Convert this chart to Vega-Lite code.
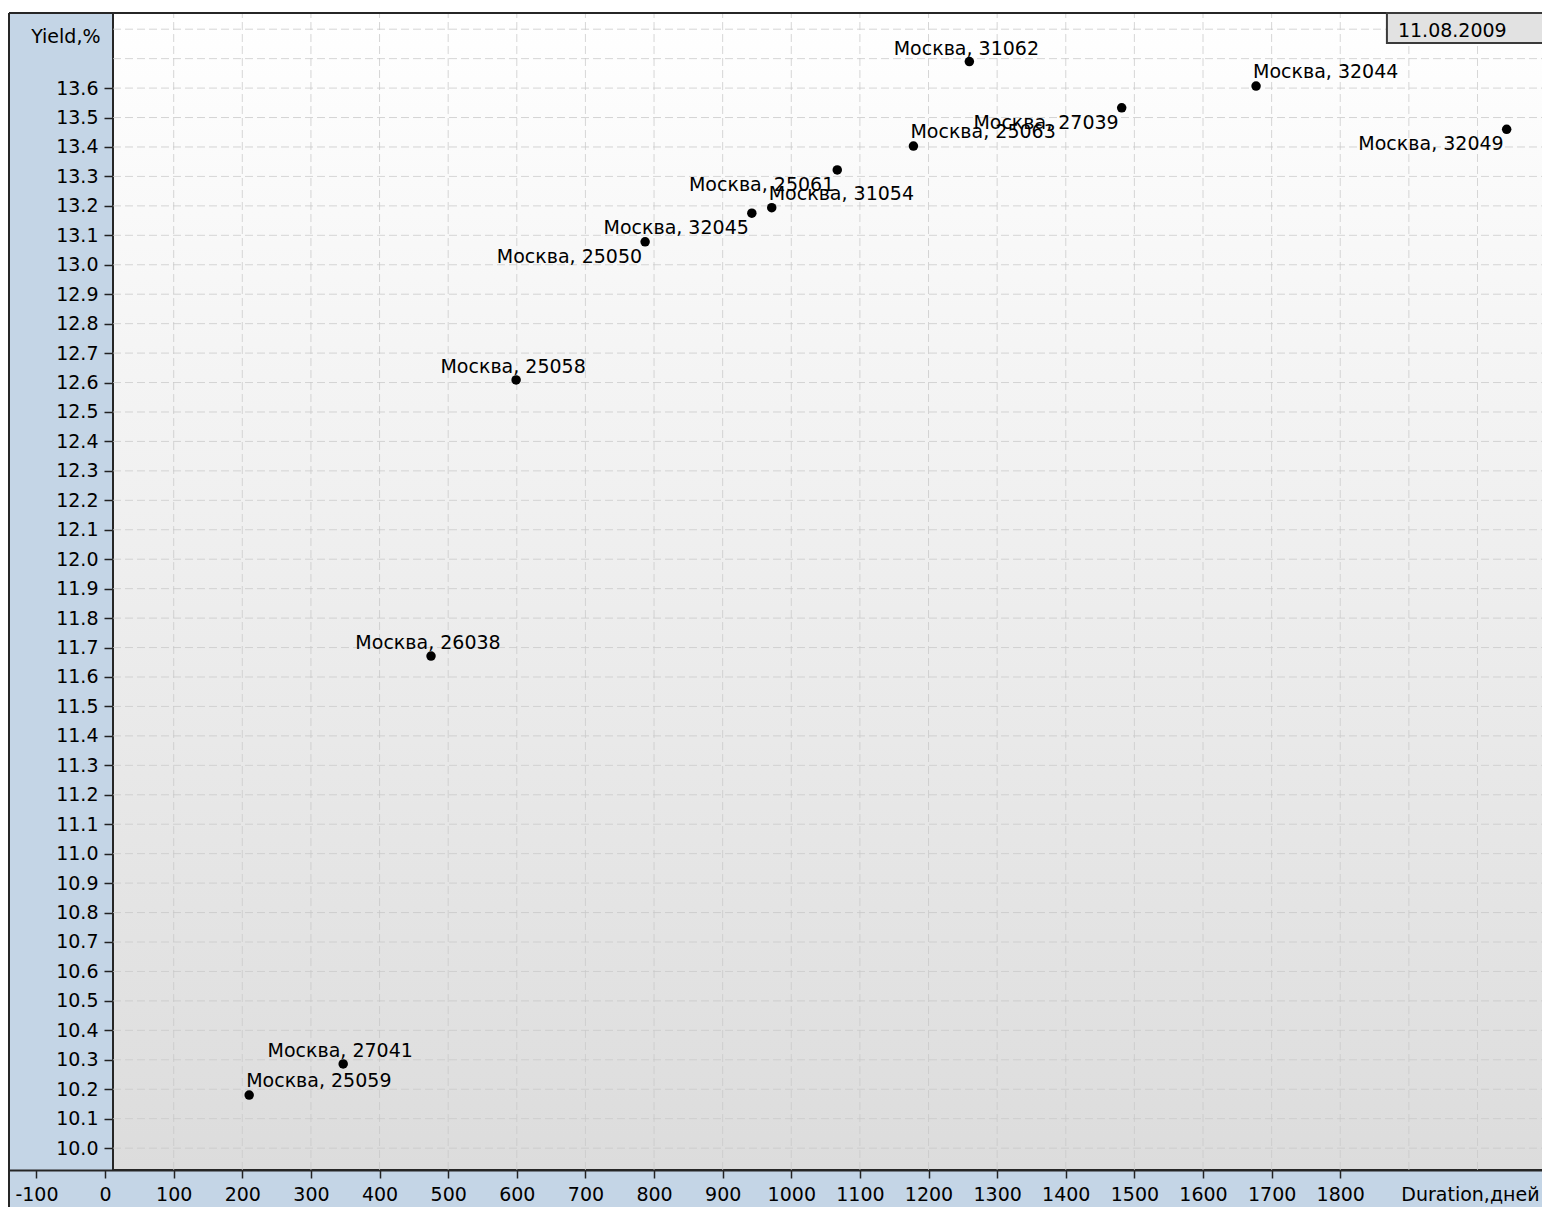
{
  "$schema": "https://vega.github.io/schema/vega-lite/v6.json",
  "width": 1429,
  "height": 1157,
  "autosize": {"type": "none"},
  "padding": {"left": 113, "top": 13, "right": 0, "bottom": 37},
  "background": "#c4d5e6",
  "config": {
    "font": "DejaVu Sans",
    "view": {"fill": null, "stroke": null},
    "text": {"font": "DejaVu Sans", "fontSize": 19, "color": "#000000"}
  },
  "datasets": {
    "bonds": [
      {"name": "Москва, 31062", "dur": 1259.5, "yld": 13.690},
      {"name": "Москва, 32044", "dur": 1677.3, "yld": 13.607},
      {"name": "Москва, 27039", "dur": 1481.5, "yld": 13.533},
      {"name": "Москва, 25063", "dur": 1178.0, "yld": 13.403},
      {"name": "Москва, 32049", "dur": 2042.5, "yld": 13.460},
      {"name": "Москва, 25061", "dur": 1067.0, "yld": 13.322},
      {"name": "Москва, 31054", "dur": 971.5, "yld": 13.194},
      {"name": "Москва, 32045", "dur": 942.5, "yld": 13.175},
      {"name": "Москва, 25050", "dur": 787.0, "yld": 13.078},
      {"name": "Москва, 25058", "dur": 599.0, "yld": 12.609},
      {"name": "Москва, 26038", "dur": 475.0, "yld": 11.671},
      {"name": "Москва, 27041", "dur": 347.0, "yld": 10.286},
      {"name": "Москва, 25059", "dur": 210.0, "yld": 10.180}
    ],
    "hgrid": [
      {"v": 10.0}, {"v": 10.1}, {"v": 10.2}, {"v": 10.3}, {"v": 10.4}, {"v": 10.5}, {"v": 10.6}, {"v": 10.7}, {"v": 10.8}, {"v": 10.9},
      {"v": 11.0}, {"v": 11.1}, {"v": 11.2}, {"v": 11.3}, {"v": 11.4}, {"v": 11.5}, {"v": 11.6}, {"v": 11.7}, {"v": 11.8}, {"v": 11.9},
      {"v": 12.0}, {"v": 12.1}, {"v": 12.2}, {"v": 12.3}, {"v": 12.4}, {"v": 12.5}, {"v": 12.6}, {"v": 12.7}, {"v": 12.8}, {"v": 12.9},
      {"v": 13.0}, {"v": 13.1}, {"v": 13.2}, {"v": 13.3}, {"v": 13.4}, {"v": 13.5}, {"v": 13.6}, {"v": 13.7}, {"v": 13.8}
    ],
    "vgrid": [
      {"v": 100}, {"v": 200}, {"v": 300}, {"v": 400}, {"v": 500}, {"v": 600}, {"v": 700}, {"v": 800}, {"v": 900}, {"v": 1000},
      {"v": 1100}, {"v": 1200}, {"v": 1300}, {"v": 1400}, {"v": 1500}, {"v": 1600}, {"v": 1700}, {"v": 1800}, {"v": 1900}, {"v": 2000}
    ],
    "stamp": [{"date": "11.08.2009"}]
  },
  "layer": [
    {
      "data": {"values": [{}]},
      "mark": {"type": "rect", "fill": "#ffffff"},
      "encoding": {
        "x": {"datum": -400, "type": "quantitative", "scale": {"domain": [-140, 2094], "range": [-104, 1429], "nice": false, "zero": false}},
        "x2": {"datum": 2200},
        "y": {"datum": 13.855, "type": "quantitative", "scale": {"domain": [9.8, 13.855], "range": [1194, 0], "nice": false, "zero": false}},
        "y2": {"datum": 14.6}
      }
    },
    {
      "data": {"values": [{}]},
      "mark": {"type": "rect", "fill": "#ffffff"},
      "encoding": {
        "x": {"datum": -400, "type": "quantitative"},
        "x2": {"datum": -140},
        "y": {"datum": 9.0, "type": "quantitative"},
        "y2": {"datum": 14.6}
      }
    },
    {
      "data": {"values": [{}]},
      "mark": {
        "type": "rect",
        "fill": {"gradient": "linear", "x1": 0, "y1": 0, "x2": 0, "y2": 1,
          "stops": [{"offset": 0, "color": "#ffffff"}, {"offset": 1, "color": "#dcdcdc"}]},
        "stroke": "#262626",
        "strokeWidth": 2
      },
      "encoding": {
        "x": {"datum": 11.56, "type": "quantitative"},
        "x2": {"datum": 2100},
        "y": {"datum": 9.9256, "type": "quantitative"},
        "y2": {"datum": 13.855}
      }
    },
    {
      "data": {"name": "hgrid"},
      "mark": {"type": "rule", "stroke": "#c8c8c8", "strokeWidth": 1, "strokeDash": [8, 4], "opacity": 0.75},
      "encoding": {
        "y": {"field": "v", "type": "quantitative"},
        "x": {"datum": 11.56, "type": "quantitative"},
        "x2": {"datum": 2100}
      }
    },
    {
      "data": {"name": "vgrid"},
      "mark": {"type": "rule", "stroke": "#c8c8c8", "strokeWidth": 1, "strokeDash": [8, 4], "opacity": 0.75},
      "encoding": {
        "x": {"field": "v", "type": "quantitative"},
        "y": {"datum": 9.9256, "type": "quantitative"},
        "y2": {"datum": 13.855}
      }
    },
    {
      "data": {"values": [{}]},
      "mark": {"type": "rule", "stroke": "#262626", "strokeWidth": 2},
      "encoding": {
        "x": {"datum": -140, "type": "quantitative"},
        "y": {"datum": 9.0, "type": "quantitative"},
        "y2": {"datum": 13.855}
      }
    },
    {
      "data": {"values": [{}]},
      "mark": {"type": "rule", "stroke": "#262626", "strokeWidth": 2},
      "encoding": {
        "y": {"datum": 13.855, "type": "quantitative"},
        "x": {"datum": -140, "type": "quantitative"},
        "x2": {"datum": 2200}
      }
    },
    {
      "data": {"name": "stamp"},
      "mark": {"type": "rect", "fill": "#e2e2e2", "stroke": "#3a3a3a", "strokeWidth": 2},
      "encoding": {
        "x": {"datum": 1868, "type": "quantitative"},
        "x2": {"datum": 2100},
        "y": {"datum": 13.753, "type": "quantitative"},
        "y2": {"datum": 13.855}
      }
    },
    {
      "data": {"name": "stamp"},
      "mark": {"type": "text", "align": "left", "baseline": "alphabetic", "dx": 11, "dy": -6, "fontSize": 19, "color": "#000000"},
      "encoding": {
        "x": {"datum": 1868, "type": "quantitative"},
        "y": {"datum": 13.753, "type": "quantitative"},
        "text": {"field": "date"}
      }
    },
    {
      "data": {"name": "bonds"},
      "mark": {"type": "circle", "size": 90, "color": "#000000", "opacity": 1},
      "encoding": {
        "x": {
          "field": "dur", "type": "quantitative",
          "scale": {"domain": [-140, 2094], "range": [-104, 1429], "nice": false, "zero": false},
          "axis": {
            "orient": "bottom",
            "values": [-100, 0, 100, 200, 300, 400, 500, 600, 700, 800, 900, 1000, 1100, 1200, 1300, 1400, 1500, 1600, 1700, 1800],
            "tickCount": 200,
            "labelExpr": "'' + datum.value",
            "title": "Duration,дней",
            "titleX": 1426, "titleY": 30, "titleAlign": "right", "titleBaseline": "alphabetic", "titleAngle": 0,
            "titleFont": "DejaVu Sans", "titleFontSize": 19, "titleFontWeight": "normal", "titleColor": "#000000",
            "labelFont": "DejaVu Sans", "labelFontSize": 19, "labelColor": "#000000", "labelPadding": 7,
            "labelFlush": false, "labelOverlap": false,
            "tickColor": "#222222", "tickWidth": 1.5, "tickSize": 8,
            "domain": true, "domainColor": "#262626", "domainWidth": 2,
            "grid": false
          }
        },
        "y": {
          "field": "yld", "type": "quantitative",
          "scale": {"domain": [9.8, 13.855], "range": [1194, 0], "nice": false, "zero": false},
          "axis": {
            "orient": "left",
            "values": [10.0, 10.1, 10.2, 10.3, 10.4, 10.5, 10.6, 10.7, 10.8, 10.9, 11.0, 11.1, 11.2, 11.3, 11.4, 11.5, 11.6, 11.7, 11.8, 11.9, 12.0, 12.1, 12.2, 12.3, 12.4, 12.5, 12.6, 12.7, 12.8, 12.9, 13.0, 13.1, 13.2, 13.3, 13.4, 13.5, 13.6],
            "tickCount": 200,
            "format": ".1f",
            "title": "Yield,%",
            "titleX": -13, "titleY": 29, "titleAlign": "right", "titleBaseline": "alphabetic", "titleAngle": 0,
            "titleFont": "DejaVu Sans", "titleFontSize": 19, "titleFontWeight": "normal", "titleColor": "#000000",
            "labelFont": "DejaVu Sans", "labelFontSize": 19, "labelColor": "#000000", "labelPadding": 6,
            "labelOverlap": false,
            "tickColor": "#222222", "tickWidth": 1.5, "tickSize": 9,
            "domain": false,
            "grid": false
          }
        }
      }
    },
    {
      "data": {"name": "bonds"},
      "transform": [{"filter": {"field": "name", "oneOf": ["Москва, 31062", "Москва, 25058", "Москва, 26038", "Москва, 27041"]}}],
      "mark": {"type": "text", "align": "center", "baseline": "alphabetic", "dx": -3, "dy": -7, "fontSize": 19, "color": "#000000"},
      "encoding": {
        "x": {"field": "dur", "type": "quantitative"},
        "y": {"field": "yld", "type": "quantitative"},
        "text": {"field": "name"}
      }
    },
    {
      "data": {"name": "bonds"},
      "transform": [{"filter": {"field": "name", "oneOf": ["Москва, 25059", "Москва, 32044", "Москва, 25063", "Москва, 31054"]}}],
      "mark": {"type": "text", "align": "left", "baseline": "alphabetic", "dx": -3, "dy": -8, "fontSize": 19, "color": "#000000"},
      "encoding": {
        "x": {"field": "dur", "type": "quantitative"},
        "y": {"field": "yld", "type": "quantitative"},
        "text": {"field": "name"}
      }
    },
    {
      "data": {"name": "bonds"},
      "transform": [{"filter": {"field": "name", "oneOf": ["Москва, 27039", "Москва, 25061", "Москва, 32049", "Москва, 32045", "Москва, 25050"]}}],
      "mark": {"type": "text", "align": "right", "baseline": "alphabetic", "dx": -3, "dy": 21, "fontSize": 19, "color": "#000000"},
      "encoding": {
        "x": {"field": "dur", "type": "quantitative"},
        "y": {"field": "yld", "type": "quantitative"},
        "text": {"field": "name"}
      }
    }
  ]
}
